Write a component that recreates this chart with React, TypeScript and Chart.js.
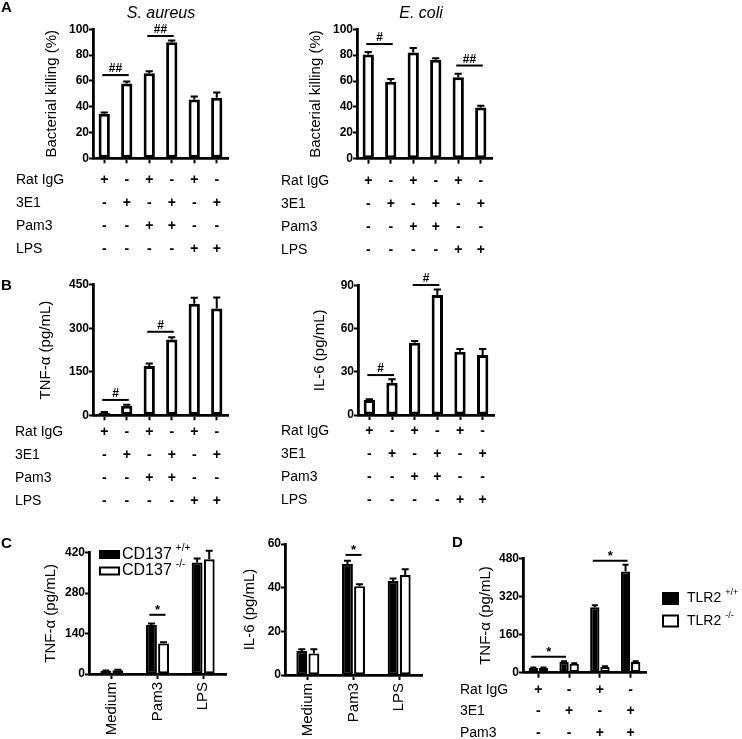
import React, { useEffect, useRef } from 'react';
import { Chart, registerables } from 'chart.js';
Chart.register(...registerables);

const FONT = '"Liberation Sans", Arial, Helvetica, sans-serif';

// ---------- Panels A & B : six conditions ----------
const sixConditions = ['c1', 'c2', 'c3', 'c4', 'c5', 'c6'];
const rowNamesAB = ['Rat IgG', '3E1', 'Pam3', 'LPS'];
const ratIgGSigns = ['+', '-', '+', '-', '+', '-'];
const e3E1Signs = ['-', '+', '-', '+', '-', '+'];
const pam3Signs = ['-', '-', '+', '+', '-', '-'];
const lpsSigns = ['-', '-', '-', '-', '+', '+'];

const saureusKilling = [34.5, 58, 66, 90, 45.5, 47];
const saureusErr = [1, 1.5, 1.5, 1.4, 2.5, 4];
const ecoliKilling = [80.5, 59.5, 82, 76.5, 63, 39.5];
const ecoliErr = [2, 2, 3.5, 1.2, 2.7, 1.5];
const tnfB = [9, 33, 170, 261, 385, 368];
const tnfBErr = [2, 3, 9, 8, 20, 38];
const il6B = [10.4, 22.5, 50.3, 83.5, 44, 41.8];
const il6BErr = [0.6, 2.3, 1.2, 3.9, 2, 4.2];

// ---------- Panel C : CD137 +/+ vs -/- ----------
const stimuliC = ['Medium', 'Pam3', 'LPS'];
const legendC = ['CD137 +/+', 'CD137 -/-'];
const tnfCWt = [10, 170, 386];
const tnfCWtErr = [2, 5, 14];
const tnfCKo = [13, 106, 397];
const tnfCKoErr = [2, 4, 30];
const il6CWt = [11, 50.8, 43];
const il6CWtErr = [0.8, 1.5, 1.2];
const il6CKo = [9.9, 40.7, 45.8];
const il6CKoErr = [1.9, 0.9, 2.6];

// ---------- Panel D : TLR2 +/+ vs -/- ----------
const fourConditions = ['d1', 'd2', 'd3', 'd4'];
const rowNamesD = ['Rat IgG', '3E1', 'Pam3'];
const ratIgGSignsD = ['+', '-', '+', '-'];
const e3E1SignsD = ['-', '+', '-', '+'];
const pam3SignsD = ['-', '-', '+', '+'];
const legendD = ['TLR2 +/+', 'TLR2 -/-'];
const tnfDWt = [20, 45, 275, 425];
const tnfDWtErr = [2, 3, 8, 28];
const tnfDKo = [20, 38, 25, 45];
const tnfDKoErr = [2, 2, 2, 3];

// ---------- significance marks (category index pairs, value level) ----------
const sigSaureus = [
  { ds1: 0, i1: 0, ds2: 0, i2: 1, at: 64.5, mark: '##' },
  { ds1: 0, i1: 2, ds2: 0, i2: 3, at: 94.8, mark: '##' },
];
const sigEcoli = [
  { ds1: 0, i1: 0, ds2: 0, i2: 1, at: 88.6, mark: '#' },
  { ds1: 0, i1: 4, ds2: 0, i2: 5, at: 72, mark: '##' },
];
const sigTnfB = [
  { ds1: 0, i1: 0, ds2: 0, i2: 1, at: 53, mark: '#' },
  { ds1: 0, i1: 2, ds2: 0, i2: 3, at: 288, mark: '#' },
];
const sigIl6B = [
  { ds1: 0, i1: 0, ds2: 0, i2: 1, at: 27.8, mark: '#' },
  { ds1: 0, i1: 2, ds2: 0, i2: 3, at: 90.5, mark: '#' },
];
const sigTnfC = [{ ds1: 0, i1: 1, ds2: 1, i2: 1, at: 205, mark: '*' }];
const sigIl6C = [{ ds1: 0, i1: 1, ds2: 1, i2: 1, at: 55, mark: '*' }];
const sigTnfD = [
  { ds1: 0, i1: 0, ds2: 0, i2: 1, at: 67, mark: '*' },
  { ds1: 0, i1: 2, ds2: 0, i2: 3, at: 470, mark: '*' },
];

type DS = { data: number[]; errors: number[]; fill: string };
type Sig = { ds1: number; i1: number; ds2: number; i2: number; at: number; mark: string };
type Spec = {
  box: [number, number, number, number];
  area: [number, number, number, number];
  labels: string[];
  datasets: DS[];
  yMax: number;
  yStep: number;
  yTitle: string;
  yTitleX: number;
  barPct: number;
  catPct: number;
  bw: number;
  showXLabels: boolean;
  table?: { names: string[]; rows: string[][]; labelX: number; offset: number; gap: number };
  sigs: Sig[];
  legend?: { names: string[]; x: number; ys: number[]; w: number; h: number; textX: number; size: number };
};

function buildConfig(s: Spec): any {
  const [bx, by, bw, bh] = s.box;
  const [al, at, ar, ab] = s.area;
  const titleSize = 15;
  const extras = {
    id: 'panelExtras',
    afterDatasetsDraw(chart: any) {
      const ctx = chart.ctx;
      const y = chart.scales.y;
      ctx.save();
      ctx.strokeStyle = '#000';
      ctx.fillStyle = '#000';
      ctx.lineWidth = 2;
      s.datasets.forEach((d, di) => {
        const meta = chart.getDatasetMeta(di);
        meta.data.forEach((el: any, i: number) => {
          const p0 = y.getPixelForValue(d.data[i]);
          const p1 = y.getPixelForValue(d.data[i] + d.errors[i]);
          const half = el.width * 0.32;
          ctx.beginPath();
          ctx.moveTo(el.x, p0);
          ctx.lineTo(el.x, p1);
          ctx.moveTo(el.x - half, p1);
          ctx.lineTo(el.x + half, p1);
          ctx.stroke();
        });
      });
      s.sigs.forEach((g) => {
        const a = chart.getDatasetMeta(g.ds1).data[g.i1] as any;
        const b = chart.getDatasetMeta(g.ds2).data[g.i2] as any;
        const yy = y.getPixelForValue(g.at);
        const x1 = a.x - 2;
        const x2 = b.x + 2;
        ctx.beginPath();
        ctx.moveTo(x1, yy);
        ctx.lineTo(x2, yy);
        ctx.stroke();
        ctx.font = `bold ${g.mark === '*' ? 13 : 12}px ${FONT}`;
        ctx.textAlign = 'center';
        ctx.textBaseline = 'alphabetic';
        ctx.fillText(g.mark, (x1 + x2) / 2, yy - (g.mark === '*' ? 1 : 3));
      });
      ctx.restore();
    },
    afterDraw(chart: any) {
      const ctx = chart.ctx;
      ctx.save();
      ctx.fillStyle = '#000';
      if (s.table) {
        const t = s.table;
        const x = chart.scales.x;
        const base = chart.chartArea.bottom + t.offset;
        t.names.forEach((name, r) => {
          const yy = base + r * t.gap;
          ctx.textBaseline = 'middle';
          ctx.font = `14px ${FONT}`;
          ctx.textAlign = 'left';
          ctx.fillText(name, t.labelX - bx, yy);
          ctx.font = `bold 14px ${FONT}`;
          ctx.textAlign = 'center';
          t.rows[r].forEach((v, i) => ctx.fillText(v, x.getPixelForTick(i), yy));
        });
      }
      if (s.legend) {
        const L = s.legend;
        L.names.forEach((name, i) => {
          const fill = s.datasets[i].fill;
          const cy = L.ys[i] - by;
          const rx = L.x - bx;
          ctx.fillStyle = fill;
          ctx.fillRect(rx, cy - L.h / 2, L.w, L.h);
          ctx.strokeStyle = '#000';
          ctx.lineWidth = 2;
          ctx.strokeRect(rx + 1, cy - L.h / 2 + 1, L.w - 2, L.h - 2);
          ctx.fillStyle = '#000';
          const [main, sup] = name.split(' ');
          ctx.font = `${L.size}px ${FONT}`;
          ctx.textAlign = 'left';
          ctx.textBaseline = 'middle';
          const tx = L.textX - bx;
          ctx.fillText(main, tx, cy);
          const w = ctx.measureText(main).width;
          ctx.font = `${Math.round(L.size * 0.62)}px ${FONT}`;
          ctx.fillText(sup, tx + w + 4, cy - L.size * 0.42);
        });
      }
      ctx.restore();
    },
  };

  return {
    type: 'bar',
    data: {
      labels: s.labels,
      datasets: s.datasets.map((d) => ({
        data: d.data,
        backgroundColor: d.fill,
        borderColor: '#000',
        borderWidth: s.bw,
        borderSkipped: false,
        barPercentage: s.barPct,
        categoryPercentage: s.catPct,
      })),
    },
    options: {
      responsive: false,
      animation: false,
      devicePixelRatio: 1,
      layout: { padding: { left: 0, top: at - by, right: bx + bw - ar, bottom: 0 } },
      plugins: { legend: { display: false }, tooltip: { enabled: false }, title: { display: false } },
      scales: {
        x: {
          type: 'category',
          offset: true,
          grid: {
            display: true,
            drawOnChartArea: false,
            drawTicks: true,
            tickLength: 5,
            tickWidth: 2,
            tickColor: '#000',
            offset: false,
            color: '#000',
          },
          border: { display: true, width: 2.8, color: '#000' },
          ticks: {
            display: s.showXLabels,
            autoSkip: false,
            minRotation: 90,
            maxRotation: 90,
            padding: 3,
            color: '#000',
            font: { family: FONT, size: 15 },
          },
          afterFit: (sc: any) => {
            sc.height = by + bh - ab;
          },
        },
        y: {
          min: 0,
          max: s.yMax,
          ticks: {
            stepSize: s.yStep,
            padding: 0,
            color: '#000',
            font: { family: FONT, size: 12, weight: 'bold' },
          },
          grid: {
            display: true,
            drawOnChartArea: false,
            drawTicks: true,
            tickLength: 4,
            tickWidth: 2,
            tickColor: '#000',
            color: '#000',
          },
          border: { display: true, width: 2.8, color: '#000' },
          title: {
            display: true,
            text: s.yTitle,
            color: '#000',
            font: { family: FONT, size: titleSize },
            padding: { top: s.yTitleX - bx - (titleSize * 1.2) / 2, bottom: 0 },
          },
          afterFit: (sc: any) => {
            sc.width = al - bx;
          },
        },
      },
    },
    plugins: [extras],
  };
}

const tableAB = { names: rowNamesAB, rows: [ratIgGSigns, e3E1Signs, pam3Signs, lpsSigns] };

const specs: Spec[] = [
  {
    box: [0, 0, 250, 262],
    area: [93, 29.3, 228, 158.3],
    labels: sixConditions,
    datasets: [{ data: saureusKilling, errors: saureusErr, fill: '#fff' }],
    yMax: 100, yStep: 20,
    yTitle: 'Bacterial killing (%)', yTitleX: 52,
    barPct: 0.5, catPct: 1, bw: 3, showXLabels: false,
    table: { ...tableAB, labelX: 16, offset: 22, gap: 23 },
    sigs: sigSaureus,
  },
  {
    box: [250, 0, 250, 262],
    area: [357, 29.3, 492, 158.7],
    labels: sixConditions,
    datasets: [{ data: ecoliKilling, errors: ecoliErr, fill: '#fff' }],
    yMax: 100, yStep: 20,
    yTitle: 'Bacterial killing (%)', yTitleX: 316,
    barPct: 0.5, catPct: 1, bw: 3, showXLabels: false,
    table: { ...tableAB, labelX: 281, offset: 22, gap: 23 },
    sigs: sigEcoli,
  },
  {
    box: [0, 262, 250, 250],
    area: [93, 284.8, 228, 415.3],
    labels: sixConditions,
    datasets: [{ data: tnfB, errors: tnfBErr, fill: '#fff' }],
    yMax: 450, yStep: 150,
    yTitle: 'TNF-\u03b1 (pg/mL)', yTitleX: 46,
    barPct: 0.5, catPct: 1, bw: 3, showXLabels: false,
    table: { ...tableAB, labelX: 15, offset: 16.5, gap: 23 },
    sigs: sigTnfB,
  },
  {
    box: [250, 262, 250, 250],
    area: [358, 285.7, 494, 415],
    labels: sixConditions,
    datasets: [{ data: il6B, errors: il6BErr, fill: '#fff' }],
    yMax: 90, yStep: 30,
    yTitle: 'IL-6 (pg/mL)', yTitleX: 320,
    barPct: 0.5, catPct: 1, bw: 3, showXLabels: false,
    table: { ...tableAB, labelX: 281, offset: 16.5, gap: 23 },
    sigs: sigIl6B,
  },
  {
    box: [0, 528, 240, 211],
    area: [89, 552.7, 226, 674],
    labels: stimuliC,
    datasets: [
      { data: tnfCWt, errors: tnfCWtErr, fill: '#000' },
      { data: tnfCKo, errors: tnfCKoErr, fill: '#fff' },
    ],
    yMax: 420, yStep: 140,
    yTitle: 'TNF-\u03b1 (pg/mL)', yTitleX: 51,
    barPct: 0.9, catPct: 0.53, bw: 2.2, showXLabels: true,
    sigs: sigTnfC,
    legend: { names: legendC, x: 99, ys: [554.5, 571], w: 21, h: 9, textX: 122, size: 16 },
  },
  {
    box: [240, 528, 210, 211],
    area: [285, 544, 422, 675],
    labels: stimuliC,
    datasets: [
      { data: il6CWt, errors: il6CWtErr, fill: '#000' },
      { data: il6CKo, errors: il6CKoErr, fill: '#fff' },
    ],
    yMax: 60, yStep: 20,
    yTitle: 'IL-6 (pg/mL)', yTitleX: 250,
    barPct: 0.9, catPct: 0.53, bw: 2.2, showXLabels: true,
    sigs: sigIl6C,
  },
  {
    box: [450, 528, 292, 211],
    area: [523, 558.3, 646, 672.7],
    labels: fourConditions,
    datasets: [
      { data: tnfDWt, errors: tnfDWtErr, fill: '#000' },
      { data: tnfDKo, errors: tnfDKoErr, fill: '#fff' },
    ],
    yMax: 480, yStep: 160,
    yTitle: 'TNF-\u03b1 (pg/mL)', yTitleX: 486,
    barPct: 0.92, catPct: 0.66, bw: 2.2, showXLabels: false,
    table: { names: rowNamesD, rows: [ratIgGSignsD, e3E1SignsD, pam3SignsD], labelX: 460, offset: 17.3, gap: 21.5 },
    sigs: sigTnfD,
    legend: { names: legendD, x: 662, ys: [598.5, 621], w: 17, h: 13, textX: 687, size: 14 },
  },
];

function Panel({ spec }: { spec: Spec }) {
  const ref = useRef<HTMLCanvasElement>(null);
  useEffect(() => {
    const chart = new Chart(ref.current as HTMLCanvasElement, buildConfig(spec));
    return () => chart.destroy();
  }, [spec]);
  const [x, y, w, h] = spec.box;
  return (
    <canvas
      ref={ref}
      width={w}
      height={h}
      style={{ position: 'absolute', left: x, top: y, width: w, height: h }}
    />
  );
}

function Txt({ x, y, text, bold, italic, size, center }: any) {
  return (
    <div
      style={{
        position: 'absolute',
        left: center ? x - 100 : x,
        width: center ? 200 : undefined,
        top: y - size * 0.6,
        fontFamily: FONT,
        fontSize: size,
        lineHeight: `${size * 1.2}px`,
        fontWeight: bold ? 'bold' : 'normal',
        fontStyle: italic ? 'italic' : 'normal',
        textAlign: center ? 'center' : 'left',
        color: '#000',
        whiteSpace: 'nowrap',
      }}
    >
      {text}
    </div>
  );
}

export default function App() {
  return (
    <div style={{ position: 'absolute', left: 0, top: 0, width: 742, height: 739, background: '#fff' }}>
      {specs.map((s, i) => (
        <Panel key={i} spec={s} />
      ))}
      <Txt x={161} y={13} text="S. aureus" italic size={16} center />
      <Txt x={421} y={13} text="E. coli" italic size={16} center />
      <Txt x={1} y={7} text="A" bold size={15} />
      <Txt x={1} y={285} text="B" bold size={15} />
      <Txt x={1} y={543} text="C" bold size={15} />
      <Txt x={452} y={541.5} text="D" bold size={15} />
    </div>
  );
}
